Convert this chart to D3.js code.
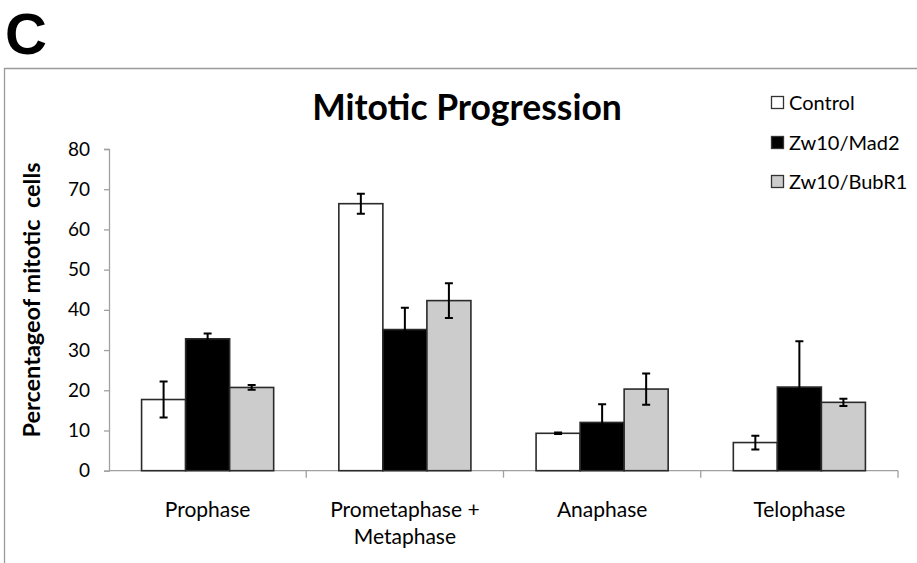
<!DOCTYPE html>
<html>
<head>
<meta charset="utf-8">
<script src="https://cdn.jsdelivr.net/npm/d3@7"></script>
<style>
  html, body { margin: 0; padding: 0; background: #fff; }
  svg { display: block; }
</style>
</head>
<body>
<script>
// Mitotic stage distribution per condition (mean and error, % of mitotic cells)
const categories = ["Prophase", "Prometaphase + Metaphase", "Anaphase", "Telophase"];
const categoryLines = [["Prophase"], ["Prometaphase +", "Metaphase"], ["Anaphase"], ["Telophase"]];
const seriesNames = ["Control", "Zw10/Mad2", "Zw10/BubR1"];
const controlValues = [17.7, 66.4, 9.3, 7.0];
const controlErrors = [4.5, 2.5, 0.2, 1.7];
const mad2Values = [32.8, 35.1, 12.0, 20.8];
const mad2Errors = [1.3, 5.4, 4.5, 11.4];
const bubr1Values = [20.7, 42.3, 20.3, 17.0];
const bubr1Errors = [0.6, 4.3, 3.9, 0.9];
const yTicks = [0, 10, 20, 30, 40, 50, 60, 70, 80];

const seriesFill = { "Control": "#ffffff", "Zw10/Mad2": "#000000", "Zw10/BubR1": "#cccccc" };
const seriesData = [
  { name: "Control", values: controlValues, errors: controlErrors },
  { name: "Zw10/Mad2", values: mad2Values, errors: mad2Errors },
  { name: "Zw10/BubR1", values: bubr1Values, errors: bubr1Errors }
];

const W = 917, H = 563;
const font = "Lato, 'Open Sans', sans-serif";

const svg = d3.select("body").append("svg")
  .attr("width", W).attr("height", H);

svg.append("rect").attr("width", W).attr("height", H).attr("fill", "#fff");

// panel letter
svg.append("text")
  .attr("x", 5).attr("y", 54)
  .attr("font-family", "'Liberation Sans', Arial, sans-serif")
  .attr("font-weight", "bold")
  .attr("font-size", 58)
  .attr("fill", "#000")
  .text("C");

// chart frame
svg.append("path")
  .attr("d", `M4.5,${H + 2} V68.5 H${W + 2}`)
  .attr("fill", "none")
  .attr("stroke", "#9a9a9a")
  .attr("stroke-width", 1.3);

const x = d3.scaleBand().domain(categories).range([109, 898]).paddingInner(0).paddingOuter(0);
const xs = d3.scaleBand().domain(seriesNames).range([0, x.bandwidth()]).paddingInner(0).paddingOuter(0.74);
const y = d3.scaleLinear().domain([0, 80]).range([470.7, 149]);

// y axis
const yAxis = svg.append("g").attr("transform", "translate(109,0)")
  .call(d3.axisLeft(y).tickValues(yTicks).tickSize(5).tickPadding(14).tickFormat(d3.format("d")));
yAxis.select(".domain").attr("stroke", "#a0a0a0").attr("stroke-width", 1.3);
yAxis.selectAll(".tick line").attr("stroke", "#a0a0a0").attr("stroke-width", 1.3);
yAxis.selectAll(".tick text")
  .attr("font-family", font).attr("font-size", 19).attr("fill", "#000");

// x axis with boundary ticks
const xg = svg.append("g");
xg.append("line")
  .attr("x1", 109).attr("x2", 898).attr("y1", y(0)).attr("y2", y(0))
  .attr("stroke", "#a0a0a0").attr("stroke-width", 1.3);
const boundaries = categories.map(c => x(c) + x.bandwidth());
xg.selectAll("line.bt").data(boundaries).join("line")
  .attr("class", "bt")
  .attr("x1", d => d).attr("x2", d => d)
  .attr("y1", y(0)).attr("y2", y(0) + 7)
  .attr("stroke", "#a0a0a0").attr("stroke-width", 1.3);

// category labels
const lab = svg.append("g").selectAll("text").data(categories).join("text")
  .attr("x", d => x(d) + x.bandwidth() / 2)
  .attr("y", 517)
  .attr("text-anchor", "middle")
  .attr("font-family", font).attr("font-size", 21).attr("fill", "#000");
lab.each(function (d, i) {
  d3.select(this).selectAll("tspan").data(categoryLines[i]).join("tspan")
    .attr("x", x(d) + x.bandwidth() / 2)
    .attr("dy", (t, j) => j === 0 ? 0 : 27)
    .text(t => t);
});

// bars
const groups = svg.append("g").selectAll("g").data(seriesData).join("g");
groups.selectAll("rect").data(s => s.values.map((v, i) => ({ s: s.name, cat: categories[i], v, e: s.errors[i] })))
  .join("rect")
  .attr("x", d => x(d.cat) + xs(d.s))
  .attr("y", d => y(d.v))
  .attr("width", xs.bandwidth())
  .attr("height", d => y(0) - y(d.v))
  .attr("fill", d => seriesFill[d.s])
  .attr("stroke", "#2a2a2a")
  .attr("stroke-width", 1.6);

// error bars
const errG = svg.append("g").attr("stroke", "#000").attr("stroke-width", 2).attr("fill", "none");
seriesData.forEach(s => {
  s.values.forEach((v, i) => {
    const cx = x(categories[i]) + xs(s.name) + xs.bandwidth() / 2;
    const hi = y(v + s.errors[i]), lo = y(v - s.errors[i]);
    const cap = 4;
    errG.append("path")
      .attr("d", `M${cx},${hi} V${lo} M${cx - cap},${hi} H${cx + cap} M${cx - cap},${lo} H${cx + cap}`);
  });
});

// title
svg.append("text")
  .attr("x", 467).attr("y", 120)
  .attr("text-anchor", "middle")
  .attr("font-family", font).attr("font-weight", "bold").attr("font-size", 35.5)
  .attr("fill", "#000")
  .text("Mitotic Progression");

// y axis title
svg.append("text")
  .attr("transform", "translate(40,300) rotate(-90)")
  .attr("text-anchor", "middle")
  .attr("font-family", font).attr("font-weight", "bold").attr("font-size", 23.5)
  .attr("fill", "#000")
  .style("white-space", "pre")
  .text("Percentageof mitotic  cells");

// legend
const legY = [103, 143, 182];
const leg = svg.append("g").selectAll("g").data(seriesNames).join("g")
  .attr("transform", (d, i) => `translate(771,${legY[i]})`);
leg.append("rect")
  .attr("x", 0.5).attr("y", -6.5).attr("width", 12).attr("height", 12)
  .attr("fill", d => seriesFill[d]).attr("stroke", "#333").attr("stroke-width", 1.3);
leg.append("text")
  .attr("x", 18).attr("y", 7)
  .attr("font-family", font).attr("font-size", 20).attr("fill", "#000")
  .text(d => d);
</script>
</body>
</html>
